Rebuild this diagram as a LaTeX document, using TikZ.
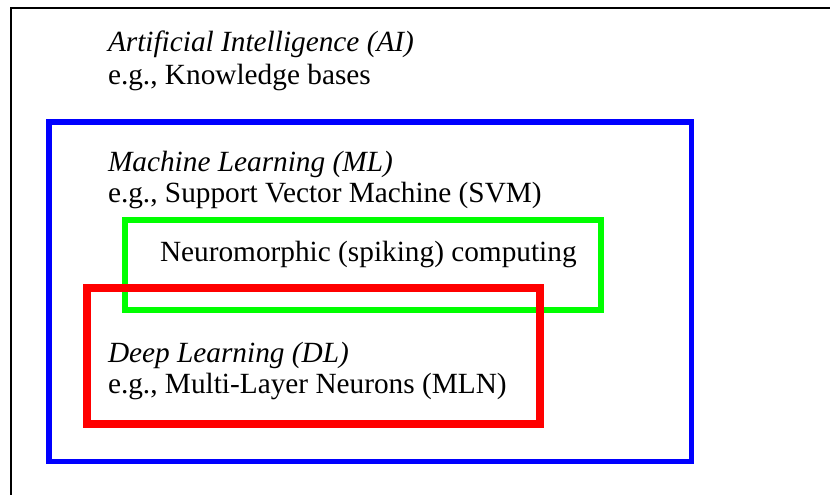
\documentclass[tikz,border=0pt]{standalone}
\usepackage{fontspec}
\setmainfont{Liberation Serif}
\begin{document}
\begin{tikzpicture}[x=1bp,y=-1bp,
  lbl/.style={anchor=base west,inner sep=0pt,outer sep=0pt,font=\fontsize{29.3bp}{33bp}\selectfont},
  ilbl/.style={lbl,font=\fontsize{29.3bp}{33bp}\selectfont\itshape},
  frame/.style={line width=2.5bp,draw=black},
  mlbox/.style={line width=5.5bp,draw={rgb,255:red,0;green,0;blue,255}},
  nmbox/.style={line width=6.5bp,draw={rgb,255:red,0;green,255;blue,0}},
  dlbox/.style={line width=8bp,draw={rgb,255:red,255;green,0;blue,0}}]
\useasboundingbox (0,0) rectangle (830,495);
\fill[white] (0,0) rectangle (830,495);
% outer AI frame (extends past the picture)
\coordinate (aiBL) at (11,500);
\coordinate (aiTL) at (11,8);
\coordinate (aiTR) at (835,8);
\draw[frame] (aiBL) -- (aiTL) -- (aiTR);
% ML box
\draw[mlbox] (49,122) rectangle (691.5,461.5);
% neuromorphic box
\draw[nmbox] (125,220) rectangle (601,310);
% DL box
\draw[dlbox] (86.7,288) rectangle (540,424);
% texts
\node[ilbl] (ai1) at (108,52) {Artificial Intelligence (AI)};
\node[lbl]  (ai2) at (108,85) {e.g., Knowledge bases};
\node[ilbl] (ml1) at (108,172) {Machine Learning (ML)};
\node[lbl]  (ml2) at (108,203) {e.g., Support Vector Machine (SVM)};
\node[lbl]  (nm)  at (160,262) {Neuromorphic (spiking) computing};
\node[ilbl] (dl1) at (108,362) {Deep Learning (DL)};
\node[lbl]  (dl2) at (108,393) {e.g., Multi-Layer Neurons (MLN)};
\end{tikzpicture}
\end{document}
